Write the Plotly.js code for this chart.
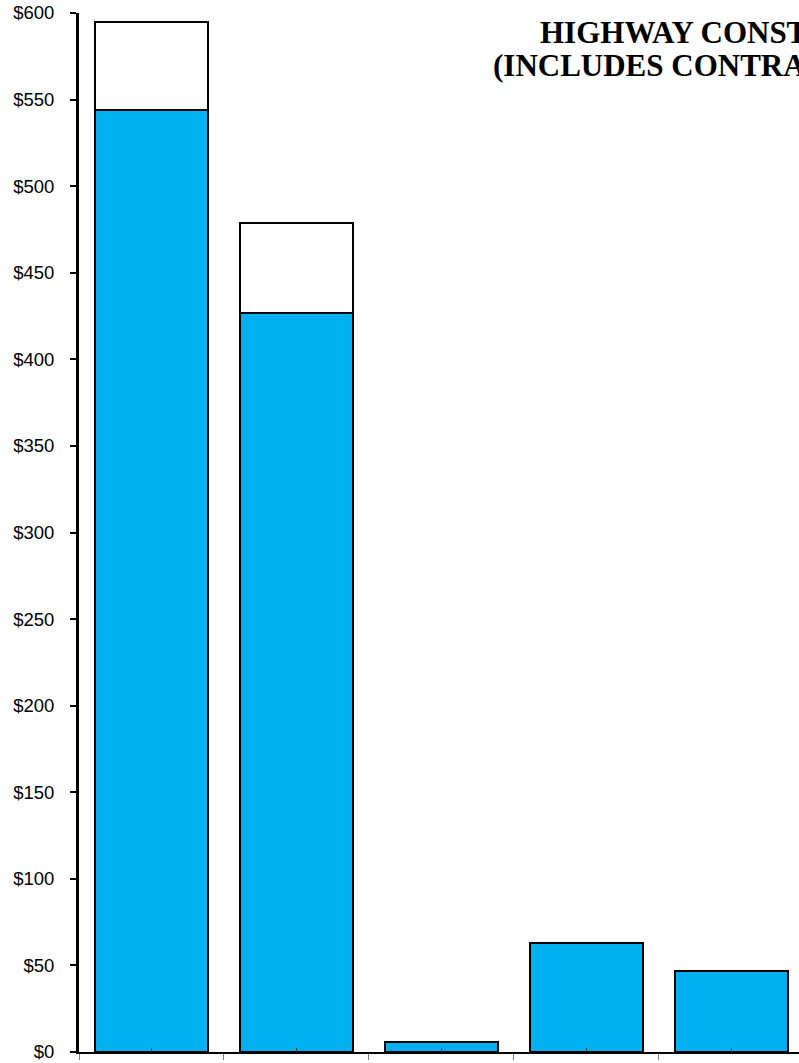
<!DOCTYPE html>
<html>
<head>
<meta charset="utf-8">
<script src="https://cdn.plot.ly/plotly-3.0.1.min.js"></script>
<style>
  html, body { margin: 0; padding: 0; background: #ffffff; }
  #chart { width: 799px; height: 1063px; }
</style>
</head>
<body>
<div id="chart"></div>
<script>
// Category positions (labels not visible in the cropped reference)
const categories = [0, 1, 2, 3, 4];
// Lower (blue) segment values, $ millions
const baseValues = [544, 427, 6, 63, 47];
// Upper (white) segment values, $ millions
const topValues = [51, 51.5, null, null, null];
// Y-axis tick values
const yTicks = [0, 50, 100, 150, 200, 250, 300, 350, 400, 450, 500, 550, 600];
// Title fragments visible in the reference
const titleLine1 = "HIGHWAY CONST";
const titleLine2 = "(INCLUDES CONTRA";

const traces = [
  {
    type: "bar",
    x: categories,
    y: baseValues,
    width: 0.78,
    marker: { color: "#00B0F0", line: { color: "#000000", width: 2 } },
    hoverinfo: "y",
    showlegend: false
  },
  {
    type: "bar",
    x: categories,
    y: topValues,
    width: 0.78,
    marker: { color: "#FFFFFF", line: { color: "#000000", width: 2 } },
    hoverinfo: "y",
    showlegend: false
  }
];

const layout = {
  width: 799,
  height: 1063,
  margin: { l: 79, r: 0, t: 13, b: 11, pad: 0 },
  paper_bgcolor: "#ffffff",
  plot_bgcolor: "#ffffff",
  barmode: "stack",
  showlegend: false,
  xaxis: {
    type: "linear",
    range: [-0.5, 4.466],
    tickmode: "array",
    tickvals: [-0.5, 0.5, 1.5, 2.5, 3.5, 4.5],
    showticklabels: false,
    ticks: "outside",
    ticklen: 6,
    tickwidth: 1,
    tickcolor: "#808080",
    showline: true,
    linecolor: "#000000",
    linewidth: 1.5,
    showgrid: false,
    zeroline: false,
    minor: {
      tickmode: "array",
      tickvals: categories,
      ticks: "inside",
      ticklen: 4,
      tickwidth: 1,
      tickcolor: "#333333",
      showgrid: false
    }
  },
  yaxis: {
    range: [0, 600],
    tickmode: "array",
    tickvals: yTicks,
    ticktext: yTicks.map(v => "$" + v),
    ticks: "outside",
    ticklen: 6,
    tickwidth: 2,
    tickcolor: "#000000",
    ticklabelstandoff: 12,
    showline: true,
    linecolor: "#000000",
    linewidth: 3,
    showgrid: false,
    zeroline: false,
    tickfont: { family: "Liberation Sans, Arial, sans-serif", size: 18.5, color: "#000000" }
  },
  annotations: [
    {
      text: titleLine1,
      xref: "paper", yref: "paper",
      x: 0.638, y: 0.981,
      xanchor: "left", yanchor: "middle",
      showarrow: false,
      font: { family: "Liberation Serif, Times New Roman, serif", size: 31, color: "#000000", weight: "bold" }
    },
    {
      text: titleLine2,
      xref: "paper", yref: "paper",
      x: 0.572, y: 0.949,
      xanchor: "left", yanchor: "middle",
      showarrow: false,
      font: { family: "Liberation Serif, Times New Roman, serif", size: 31, color: "#000000", weight: "bold" }
    }
  ]
};

Plotly.newPlot("chart", traces, layout, { displayModeBar: false, staticPlot: true });
</script>
</body>
</html>
